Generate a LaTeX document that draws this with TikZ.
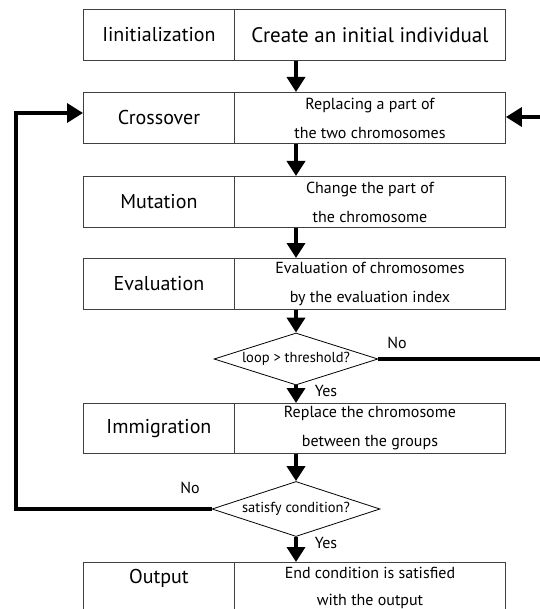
\documentclass[tikz,border=0pt]{standalone}
\usepackage{fontspec}
\setmainfont{PT Sans}
\usetikzlibrary{shapes.geometric,arrows.meta,calc}
\begin{document}
\begin{tikzpicture}[x=1pt,y=-1pt,
  cell/.style={draw=black!75,line width=0.9pt,rectangle,inner sep=0pt,anchor=north west,minimum height=51pt},
  lcell/.style={cell,minimum width=151pt,font=\fontsize{20}{24}\selectfont},
  rcell/.style={cell,minimum width=271pt,align=center,font=\fontsize{16}{29}\selectfont},
  dec/.style={draw=black,line width=0.8pt,diamond,aspect=3,inner sep=0pt,font=\fontsize{14.5}{16}\selectfont},
  arr/.style={line width=4.5pt,-{Triangle[width=18pt,length=15pt]}},
  looparr/.style={line width=3.5pt,-{Triangle[width=19pt,length=16pt]}},
  lab/.style={font=\fontsize{16}{18}\selectfont,inner sep=0pt}
]
\useasboundingbox (0,0) rectangle (539,609);
% box 1
\node[lcell] (l1) at (83,9) {Iinitialization};
\node[cell,minimum width=271pt,font=\fontsize{21}{24}\selectfont] (r1) at (234,9) {Create an initial individual};
% box 2
\node[lcell] (l2) at (83,92) {Crossover};
\node[rcell] (r2) at (234,92) {Replacing a part of\\the two chromosomes};
% box 3
\node[lcell] (l3) at (83,176) {Mutation};
\node[rcell] (r3) at (234,176) {Change the part of\\the chromosome};
% box 4
\node[lcell] (l4) at (83,258) {Evaluation};
\node[rcell] (r4) at (234,258) {Evaluation of chromosomes\\by the evaluation index};
% decision 1
\node[dec,minimum width=164pt,minimum height=52pt] (d1) at (296,359) {loop > threshold?};
% box 5
\node[lcell,minimum height=50pt] (l5) at (83,403) {Immigration};
\node[rcell,minimum height=50pt] (r5) at (234,403) {Replace the chromosome\\between the groups};
% decision 2
\node[dec,minimum width=168pt,minimum height=55pt] (d2) at (296,509) {satisfy condition?};
% output box (cropped by page edge)
\node[cell,minimum width=151pt,minimum height=60pt] (l6) at (83,562) {};
\node[cell,minimum width=271pt,minimum height=60pt] (r6) at (234,562) {};
\node[font=\fontsize{20}{24}\selectfont,inner sep=0pt] (t6) at ($(l6.north)+(0,16)$) {Output};
\node[align=center,font=\fontsize{16}{27}\selectfont,inner sep=0pt,anchor=north] (u6) at ($(r6.north)+(0,5)$) {End condition is satisfied\\with the output};
% main arrows
\draw[arr] (r1.south -| d1.north) -- (r2.north -| d1.north);
\draw[arr] (r2.south -| d1.north) -- (r3.north -| d1.north);
\draw[arr] (r3.south -| d1.north) -- (r4.north -| d1.north);
\draw[arr] (r4.south -| d1.north) -- (d1.north);
\draw[arr] (d1.south) -- (r5.north -| d1.south);
\draw[arr] (r5.south -| d2.north) -- (d2.north);
\draw[arr] (d2.south) -- (r6.north -| d2.south);
% loops
\coordinate (lc) at (16,113);
\coordinate (rc) at (548,117);
\draw[looparr] (d2.west) -| (lc) -- (l2.west |- lc);
\draw[looparr] (d1.east) -| (rc) -- (r2.east |- rc);
% labels
\node[lab] (no1) at (397,343) {No};
\node[lab] (yes1) at (326,391) {Yes};
\node[lab] (no2) at (190,488) {No};
\node[lab] (yes2) at (326,543) {Yes};
\end{tikzpicture}
\end{document}
